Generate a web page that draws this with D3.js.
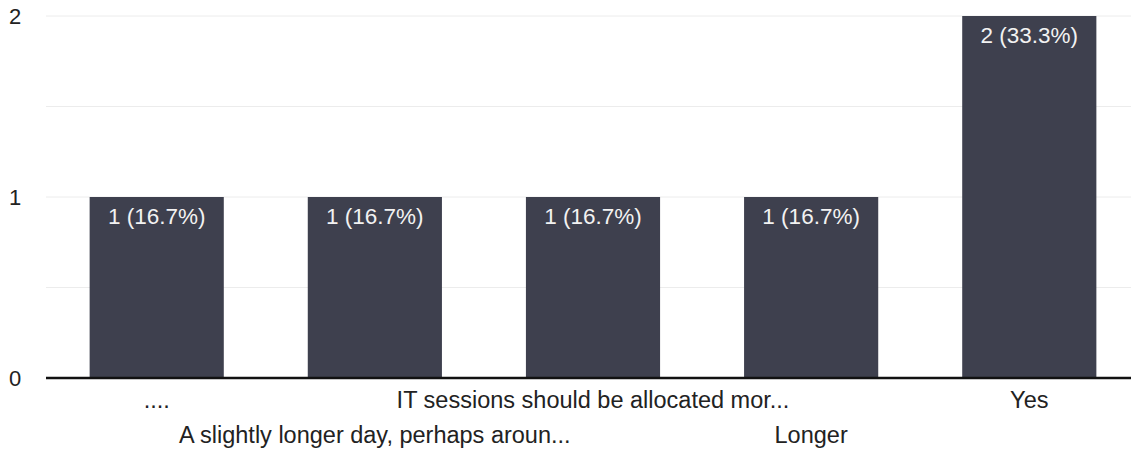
<!DOCTYPE html>
<html>
<head>
<meta charset="utf-8">
<script src="https://cdn.jsdelivr.net/npm/d3@7"></script>
<style>
  body { margin: 0; background: #fff; }
  text { font-family: "Liberation Sans", Arial, sans-serif; }
</style>
</head>
<body>
<script>
// data
var categories = ["....", "A slightly longer day, perhaps aroun...", "IT sessions should be allocated mor...", "Longer", "Yes"];
var counts = [1, 1, 1, 1, 2];
var labels = ["1 (16.7%)", "1 (16.7%)", "1 (16.7%)", "1 (16.7%)", "2 (33.3%)"];
var yTicks = [0, 1, 2];
var gridTicks = [0.5, 1, 1.5, 2];

var w = 1131;
var h = 452;

var svg = d3.select('body')
            .append('svg')
            .attr('width', w)
            .attr('height', h);

var x = d3.scaleBand()
  .domain(categories)
  .range([46, 1140])
  .paddingInner(0.385)
  .paddingOuter(0.2);

var y = d3.scaleLinear()
  .domain([0, 2])
  .range([378, 16]);

// faint gridlines
svg.selectAll('line.grid')
  .data(gridTicks)
  .enter()
  .append('line')
  .attr('class', 'grid')
  .attr('x1', 46)
  .attr('x2', w)
  .attr('y1', d => y(d))
  .attr('y2', d => y(d))
  .attr('stroke', '#ececec')
  .attr('stroke-width', 1);

svg.selectAll('rect')
  .data(counts)
  .enter()
  .append('rect')
  .attr('x', (d, i) => x(categories[i]))
  .attr('y', d => y(d))
  .attr('width', x.bandwidth())
  .attr('height', d => y(0) - y(d))
  .attr('fill', '#3e404e');

svg.selectAll('text.val')
  .data(counts)
  .enter()
  .append('text')
  .attr('class', 'val')
  .text((d, i) => labels[i])
  .attr('x', (d, i) => x(categories[i]) + x.bandwidth() / 2)
  .attr('y', d => y(d) + 27)
  .attr('font-size', '22.5px')
  .attr('fill', '#f2f2f2')
  .attr('text-anchor', 'middle');

// baseline
svg.append('line')
  .attr('x1', 46)
  .attr('x2', w)
  .attr('y1', y(0))
  .attr('y2', y(0))
  .attr('stroke', '#111')
  .attr('stroke-width', 2.5);

// y tick labels
svg.selectAll('text.ytick')
  .data(yTicks)
  .enter()
  .append('text')
  .attr('class', 'ytick')
  .text(d => d)
  .attr('x', 15)
  .attr('y', d => y(d) + 8)
  .attr('font-size', '22px')
  .attr('fill', '#222')
  .attr('text-anchor', 'middle');

// category labels, staggered over two rows
svg.selectAll('text.cat')
  .data(categories)
  .enter()
  .append('text')
  .attr('class', 'cat')
  .text(d => d)
  .attr('x', d => x(d) + x.bandwidth() / 2)
  .attr('y', (d, i) => i % 2 === 0 ? 408 : 443)
  .attr('font-size', '23.5px')
  .attr('fill', '#222')
  .attr('text-anchor', 'middle');
</script>
</body>
</html>
